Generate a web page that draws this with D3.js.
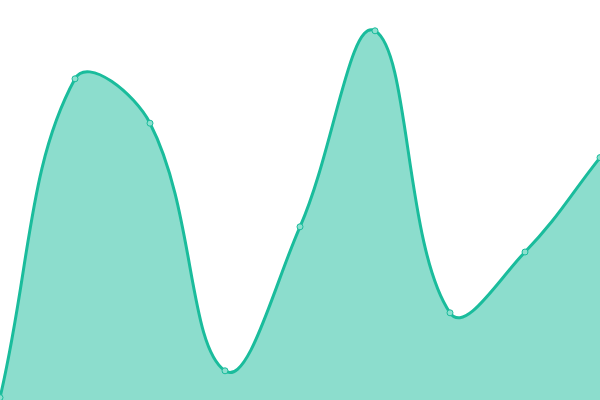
<!DOCTYPE html>
<html>
<head>
<meta charset="utf-8">
<script src="https://cdn.jsdelivr.net/npm/d3@7"></script>
<style>
  html, body { margin: 0; padding: 0; background: #fff; overflow: hidden; }
</style>
</head>
<body>
<svg width="600" height="400"></svg>
<script>
// Data
const labels = ["1", "2", "3", "4", "5", "6", "7", "8", "9"];
const values = [0.6, 80.3, 69.2, 7.3, 43.3, 92.3, 21.8, 37, 60.6];

const svg = d3.select("svg");
const width = 600, height = 400;

// Spline with distance-weighted tangents (tension 0.4)
function TensionCurve(context) {
    this._context = context;
}
TensionCurve.prototype = {
    areaStart() { this._line = 0; },
    areaEnd() { this._line = NaN; },
    lineStart() { this._pts = []; },
    point(x, y) { this._pts.push([+x, +y]); },
    lineEnd() {
        const p = this._pts, n = p.length, t = 0.4, ctx = this._context;
        if (n) {
            if (this._line) ctx.lineTo(p[0][0], p[0][1]);
            else ctx.moveTo(p[0][0], p[0][1]);
        }
        const cps = p.map((cur, i) => {
            const prev = p[i - 1] || cur, next = p[i + 1] || cur;
            const d01 = Math.hypot(cur[0] - prev[0], cur[1] - prev[1]);
            const d12 = Math.hypot(next[0] - cur[0], next[1] - cur[1]);
            let s01 = d01 / (d01 + d12), s12 = d12 / (d01 + d12);
            if (isNaN(s01)) s01 = 0;
            if (isNaN(s12)) s12 = 0;
            const fa = t * s01, fb = t * s12;
            const clampX = v => Math.max(0, Math.min(width, v));
            const clampY = v => Math.max(0, Math.min(height, v));
            return {
                prev: [clampX(cur[0] - fa * (next[0] - prev[0])), clampY(cur[1] - fa * (next[1] - prev[1]))],
                next: [clampX(cur[0] + fb * (next[0] - prev[0])), clampY(cur[1] + fb * (next[1] - prev[1]))]
            };
        });
        for (let i = 1; i < n; i++) {
            const a = cps[i - 1].next, b = cps[i].prev;
            ctx.bezierCurveTo(a[0], a[1], b[0], b[1], p[i][0], p[i][1]);
        }
        if (this._line || (this._line !== 0 && n === 1)) ctx.closePath();
        this._line = 1 - this._line;
    }
};
const curveTension = context => new TensionCurve(context);

const x = d3.scalePoint()
    .domain(labels)
    .range([0, width]);

const y = d3.scaleLinear()
    .domain([0, 100])
    .range([height, 0]);

const data = labels.map((l, i) => ({ label: l, value: values[i] }));

// Area fill
const area = d3.area()
    .x(d => x(d.label))
    .y0(height)
    .y1(d => y(d.value))
    .curve(curveTension);

svg.append("path")
    .datum(data)
    .attr("fill", "#1abc9c")
    .attr("fill-opacity", 0.5)
    .attr("d", area);

// Line on top
const line = d3.line()
    .x(d => x(d.label))
    .y(d => y(d.value))
    .curve(curveTension);

svg.append("path")
    .datum(data)
    .attr("fill", "none")
    .attr("stroke", "#1abc9c")
    .attr("stroke-width", 3)
    .attr("d", line);

// Points
svg.selectAll("circle")
    .data(data)
    .join("circle")
    .attr("cx", d => x(d.label))
    .attr("cy", d => y(d.value))
    .attr("r", 3)
    .attr("fill", "#8ce0cf")
    .attr("stroke", "#1abc9c")
    .attr("stroke-width", 1);
</script>
</body>
</html>
